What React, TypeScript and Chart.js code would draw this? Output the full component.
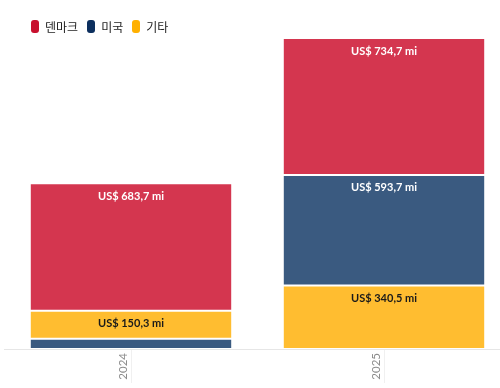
import React, { useEffect, useRef } from "react";
import { Chart, registerables } from "chart.js";

Chart.register(...registerables);

const categories = ["2024", "2025"];
const seriesNames = ["덴마크", "미국", "기타"];
const denmark = [683.7, 734.7];
const usa = [55.0, 593.7];
const others = [150.3, 340.5];

const legendColors = ["#C8102E", "#0C2F5E", "#FFB000"];
const barColors = ["#D4364F", "#3A5A80", "#FFBD30"];
const labelColors = ["#ffffff", "#ffffff", "#1a1a1a"];

const seriesValues = [denmark, usa, others];

function fmt(v: number) {
  return "US$ " + v.toFixed(1).replace(".", ",") + " mi";
}

// Build rank datasets so that each column is stacked smallest at bottom
function buildDatasets() {
  const n = seriesValues.length;
  const ranked = categories.map((_, c) =>
    seriesValues
      .map((arr, s) => ({ s, v: arr[c] }))
      .sort((a, b) => a.v - b.v)
  );
  const ds = [];
  for (let r = 0; r < n; r++) {
    ds.push({
      label: "rank" + r,
      data: ranked.map((col) => col[r].v),
      backgroundColor: ranked.map((col) => barColors[col[r].s]),
      labelColor: ranked.map((col) => labelColors[col[r].s]),
      borderColor: "rgba(255,255,255,0.65)",
      borderWidth: 1,
      borderSkipped: false,
      stack: "s",
    });
  }
  return ds;
}

const valueLabels = {
  id: "valueLabels",
  afterDatasetsDraw(chart: any) {
    const ctx = chart.ctx;
    ctx.save();
    ctx.font = "bold 11px Lato, 'Noto Sans', sans-serif";
    ctx.textAlign = "center";
    ctx.textBaseline = "middle";
    chart.data.datasets.forEach((ds: any, i: number) => {
      const meta = chart.getDatasetMeta(i);
      meta.data.forEach((bar: any, j: number) => {
        const v = ds.data[j];
        if (v == null) return;
        const h = Math.abs(bar.base - bar.y);
        if (h < 20) return;
        ctx.fillStyle = ds.labelColor[j];
        ctx.fillText(fmt(v), bar.x, bar.y + 13);
      });
    });
    ctx.restore();
  },
};

export default function App() {
  const ref = useRef<HTMLCanvasElement>(null);
  useEffect(() => {
    document.body.style.margin = "0";
    const totals = categories.map((_, c) =>
      seriesValues.reduce((acc, arr) => acc + arr[c], 0)
    );
    const chart = new Chart(ref.current!, {
      type: "bar",
      data: { labels: categories, datasets: buildDatasets() as any },
      plugins: [valueLabels],
      options: {
        responsive: false,
        animation: false,
        devicePixelRatio: 1,
        layout: { padding: { top: 38, left: 4.5, right: 0.5, bottom: 0 } },
        plugins: { legend: { display: false }, tooltip: { enabled: false } },
        datasets: { bar: { categoryPercentage: 1, barPercentage: 0.8 } },
        scales: {
          x: {
            stacked: true,
            offset: true,
            afterFit(scale: any) {
              scale.height = 39;
            },
            grid: {
              offset: false,
              drawOnChartArea: false,
              tickLength: 34,
              color: "#f0f0f0",
            },
            border: { color: "#e6e6e6", width: 1 },
            ticks: {
              minRotation: 90,
              maxRotation: 90,
              padding: -30,
              labelOffset: -8,
              color: "#8c8c8c",
              font: { size: 11.5, family: "Lato, 'Noto Sans', sans-serif" },
            },
          },
          y: {
            stacked: true,
            display: false,
            min: 0,
            max: Math.max(...totals),
          },
        },
      } as any,
    });
    return () => chart.destroy();
  }, []);

  return (
    <div
      style={{
        position: "relative",
        width: 500,
        height: 388,
        overflow: "hidden",
        background: "#fff",
      }}
    >
      <canvas ref={ref} width={511} height={388} style={{ display: "block" }} />
      <div
        style={{
          position: "absolute",
          left: 31,
          top: 20,
          display: "flex",
          alignItems: "center",
          fontFamily: "'Noto Sans CJK KR', sans-serif",
          fontSize: 12,
          color: "#222",
          lineHeight: "13px",
        }}
      >
        {seriesNames.map((name, i) => (
          <div
            key={name}
            style={{ display: "flex", alignItems: "center", marginRight: 9 }}
          >
            <span
              style={{
                display: "inline-block",
                width: 8,
                height: 13,
                borderRadius: 3,
                background: legendColors[i],
                marginRight: 6,
              }}
            />
            <span>{name}</span>
          </div>
        ))}
      </div>
    </div>
  );
}
